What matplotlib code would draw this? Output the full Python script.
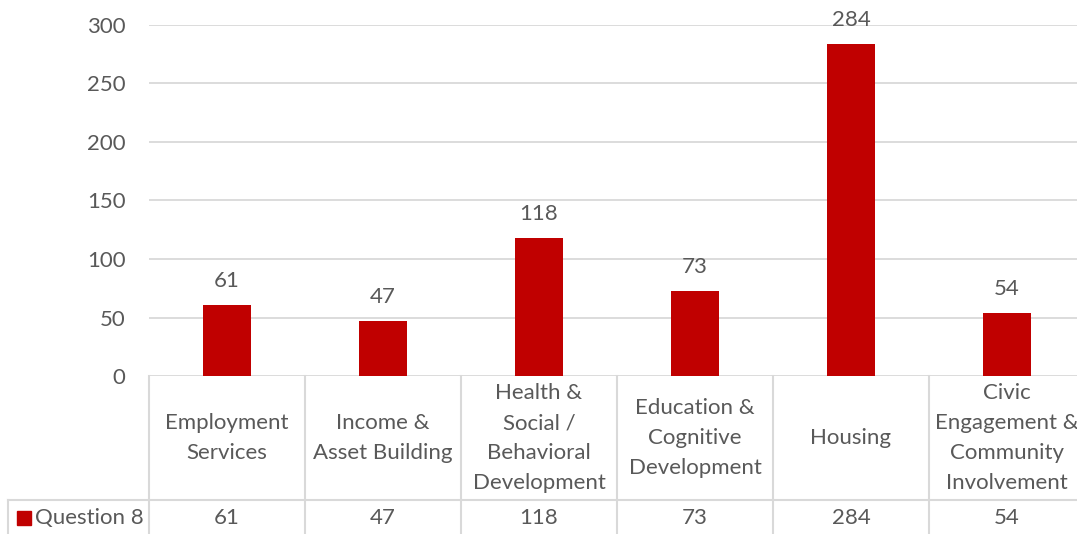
import matplotlib
matplotlib.use("Agg")
import matplotlib.pyplot as plt
from matplotlib.transforms import blended_transform_factory
from matplotlib.patches import Rectangle
from matplotlib.lines import Line2D

categories = ["Employment\nServices", "Income &\nAsset Building", "Health &\nSocial /\nBehavioral\nDevelopment",
              "Education &\nCognitive\nDevelopment", "Housing", "Civic\nEngagement &\nCommunity\nInvolvement"]
values = [61, 47, 118, 73, 284, 54]
series_name = "Question 8"
yticks = [0, 50, 100, 150, 200, 250, 300]

BAR = "#C00000"
TXT = "#595959"
GRID = "#D9D9D9"
FONT = "Lato"
FS = 16

W, H = 1077, 534
fig = plt.figure(figsize=(W / 100, H / 100), dpi=100)
ax_l, ax_r, ax_t, ax_b = 149, 1085, 25, 376
ax = fig.add_axes([ax_l / W, (H - ax_b) / H, (ax_r - ax_l) / W, (ax_b - ax_t) / H])

x = list(range(len(values)))
ax.bar(x, values, width=0.31, color=BAR, zorder=3)
ax.set_xlim(-0.5, len(values) - 0.5)
ax.set_ylim(0, 300)
ax.set_yticks(yticks)
ax.set_yticklabels([str(t) for t in yticks], fontsize=FS, color=TXT, family=FONT)
ax.tick_params(axis="y", length=0, pad=17)
ax.set_xticks([])
for s in ax.spines.values():
    s.set_visible(False)
for t in yticks:
    ax.axhline(t, color=GRID, lw=1.3, zorder=1)

for xi, v in zip(x, values):
    ax.annotate(str(v), (xi, v), xytext=(0, 10), textcoords="offset points",
                ha="center", va="bottom", fontsize=FS, color=TXT, family=FONT)

# data table
ah = ax_b - ax_t
def ay(py):
    return -(py - ax_b) / ah

tr = blended_transform_factory(ax.transData, ax.transAxes)
row_line = ay(500)
bottom = ay(540)
for b in [i - 0.5 for i in range(len(values) + 1)]:
    ax.add_line(Line2D([b, b], [0, bottom], transform=tr, color=GRID, lw=1.5, clip_on=False))
left_px = 8
left_data = -0.5 + (left_px - ax_l) / ((ax_r - ax_l) / len(values))
ax.add_line(Line2D([left_data, len(values) - 0.5], [row_line, row_line], transform=tr,
                   color=GRID, lw=1.5, clip_on=False))
ax.add_line(Line2D([left_data, left_data], [row_line, bottom], transform=tr,
                   color=GRID, lw=1.5, clip_on=False))

for xi, c, v in zip(x, categories, values):
    ax.text(xi, ay(438), c, transform=tr, ha="center", va="center", fontsize=FS,
            color=TXT, family=FONT, linespacing=1.62, multialignment="center")
    ax.text(xi, ay(518), str(v), transform=tr, ha="center", va="center", fontsize=FS,
            color=TXT, family=FONT)

fig.patches.append(Rectangle((17 / W, (H - 525) / H), 14 / W, 14 / H, transform=fig.transFigure,
                             color=BAR))
fig.text(35 / W, (H - 518) / H, series_name, ha="left", va="center", fontsize=FS, color=TXT, family=FONT)

fig.savefig("out.png", dpi=100)
